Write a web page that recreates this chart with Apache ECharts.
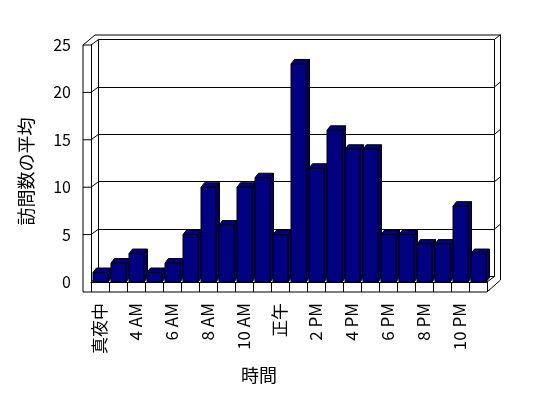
<!DOCTYPE html>
<html>
<head>
<meta charset="utf-8">
<script src="https://cdn.jsdelivr.net/npm/echarts@6/dist/echarts.min.js"></script>
<style>
  html, body { margin: 0; padding: 0; background: #fff; }
  #main { width: 548px; height: 398px; }
</style>
</head>
<body>
<div id="main"></div>
<script>
  // 時間帯ごとの訪問数の平均
  var categories = ['真夜中', '2 AM', '4 AM', '5 AM', '6 AM', '7 AM', '8 AM', '9 AM', '10 AM', '11 AM',
    '正午', '1 PM', '2 PM', '3 PM', '4 PM', '5 PM', '6 PM', '7 PM', '8 PM', '9 PM', '10 PM', '11 PM'];
  var visits = [1, 2, 3, 1, 2, 5, 10, 6, 10, 11, 5, 23, 12, 16, 14, 14, 5, 5, 4, 4, 8, 3];
  var yTicks = [0, 5, 10, 15, 20, 25];

  var FONT = 'Noto Sans CJK JP';
  var WALL = [7.5, -5.5];   // 奥の壁までのずれ
  var BAR_D = [3.5, -4.5];  // 棒の奥行き
  var NAVY = '#000080';

  var chart = echarts.init(document.getElementById('main'));

  function renderBar(params, api) {
    var c = api.coord([api.value(0), api.value(1)]);
    var b = api.coord([api.value(0), 0]);
    var x0 = c[0] - 7, x1 = c[0] + 8;
    var yt = c[1], yb = b[1];
    var dx = BAR_D[0], dy = BAR_D[1];
    var st = { stroke: '#000', lineWidth: 1 };
    return {
      type: 'group',
      children: [
        { type: 'polygon', shape: { points: [[x1, yt], [x1 + dx, yt + dy], [x1 + dx, yb + dy], [x1, yb]] },
          style: Object.assign({ fill: '#000070' }, st) },
        { type: 'polygon', shape: { points: [[x0, yt], [x1, yt], [x1 + dx, yt + dy], [x0 + dx, yt + dy]] },
          style: Object.assign({ fill: NAVY }, st) },
        { type: 'rect', shape: { x: x0, y: yt, width: x1 - x0, height: yb - yt },
          style: Object.assign({ fill: NAVY }, st) }
      ]
    };
  }

  var yMin = yTicks[0], yMax = yTicks[yTicks.length - 1], yStep = yTicks[1] - yTicks[0];

  chart.setOption({
    animation: false,
    textStyle: { fontFamily: FONT },
    grid: [
      { left: 91, right: 61, top: 45, bottom: 116 },
      { left: 91 + WALL[0], right: 61 - WALL[0], top: 45 + WALL[1], bottom: 116 - WALL[1],
        show: true, borderColor: '#000', borderWidth: 1, backgroundColor: 'transparent' }
    ],
    xAxis: [
      {
        gridIndex: 0, type: 'category', data: categories,
        axisLine: { lineStyle: { color: '#000', width: 1 } },
        axisTick: { show: true, interval: 0, length: 10, lineStyle: { color: '#000' } },
        axisLabel: { interval: 1, rotate: 90, margin: 21, fontSize: 17, color: '#000', fontFamily: FONT },
        name: '時間', nameLocation: 'middle', nameGap: 84,
        nameTextStyle: { fontSize: 18, color: '#000', fontFamily: FONT, padding: [0, 60, 0, 0] }
      },
      { gridIndex: 1, type: 'category', data: categories, show: false }
    ],
    yAxis: [
      {
        gridIndex: 0, type: 'value', min: yMin, max: yMax, interval: yStep,
        axisLine: { show: true, lineStyle: { color: '#000', width: 1 } },
        axisTick: { show: false },
        splitLine: { show: false },
        axisLabel: { margin: 20, fontSize: 16, color: '#000', fontFamily: FONT },
        name: '訪問数の平均', nameLocation: 'middle', nameGap: 56,
        nameTextStyle: { fontSize: 18, color: '#000', fontFamily: FONT, padding: [0, 16, 0, 0] }
      },
      {
        gridIndex: 1, type: 'value', min: yMin, max: yMax, interval: yStep,
        axisLine: { show: false }, axisTick: { show: false }, axisLabel: { show: false },
        splitLine: { show: true, lineStyle: { color: '#000', width: 1 } }
      }
    ],
    series: [
      {
        type: 'custom', name: '訪問数の平均',
        xAxisIndex: 0, yAxisIndex: 0, z: 5,
        renderItem: renderBar,
        encode: { x: 0, y: 1 },
        data: visits.map(function (v, i) { return [i, v]; })
      }
    ]
  });

  // 壁と床の枠線 (軸の座標から計算)
  function px(i, v) { return chart.convertToPixel({ xAxisIndex: 0, yAxisIndex: 0 }, [i, v]); }
  var n = categories.length;
  var bw = px(1, 0)[0] - px(0, 0)[0];
  var gx0 = px(0, 0)[0] - bw / 2, gx1 = px(n - 1, 0)[0] + bw / 2;
  var yBot = px(0, yMin)[1], yTop = px(0, yMax)[1];
  var bx0 = gx0 + WALL[0], bx1 = gx1 + WALL[0];
  var T = 8, FT = 10;

  function line(a, b) {
    return { type: 'line', z: 1, shape: { x1: a[0], y1: a[1], x2: b[0], y2: b[1] },
      style: { stroke: '#000', lineWidth: 1 } };
  }

  var deco = [
    { type: 'polyline', z: 1,
      shape: { points: [[gx0 - T, yBot + FT], [gx0 - T, yTop], [gx0 - T + 12, yTop - 10], [bx1 + 6, yTop - 10],
        [bx1 + 6, yBot - 2], [gx1, yBot + FT], [gx0 - T, yBot + FT]] },
      style: { stroke: '#000', lineWidth: 1, fill: null } },
    line([gx1, yBot], [bx1, yBot + WALL[1]]),
    line([gx0, yBot], [bx0, yBot + WALL[1]])
  ];
  yTicks.forEach(function (v) {
    if (v === yMin) return;
    var y = px(0, v)[1];
    deco.push(line([gx0 - T, y], [gx0, y]));
    deco.push(line([gx0, y], [bx0, y + WALL[1]]));
    deco.push(line([bx1, y + WALL[1]], [bx1 + 6, y + WALL[1] - 5]));
  });

  chart.setOption({ graphic: deco });
</script>
</body>
</html>
